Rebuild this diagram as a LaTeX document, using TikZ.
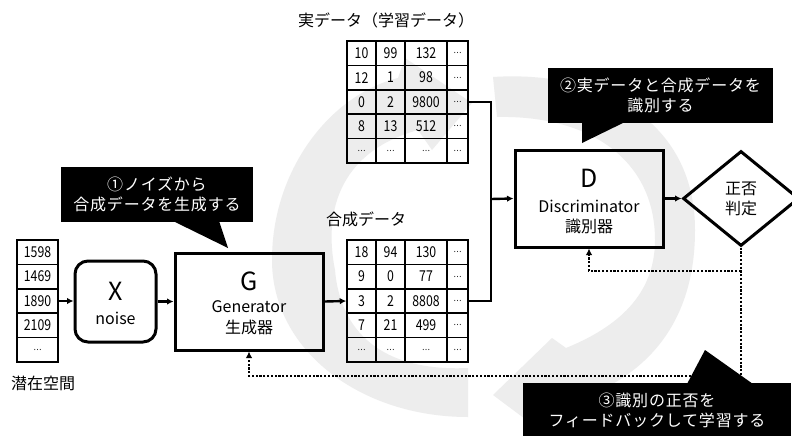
\documentclass[tikz,border=0pt]{standalone}
\usepackage{fontspec}
\setmainfont{Noto Sans CJK JP}
\newfontfamily\numfont[FakeStretch=0.82]{Noto Sans CJK JP}
\newfontfamily\jpcall[LetterSpace=5]{Noto Sans CJK JP}
\usetikzlibrary{arrows.meta,shapes.geometric}
\newcommand\ellip{{\fontsize{9}{9}\selectfont …}}
\begin{document}
\begin{tikzpicture}[x=1pt,y=-1pt,
  box/.style={draw, line width=3pt, inner sep=0pt},
  cell/.style={draw, line width=1.5pt, inner sep=0pt, minimum height=24.4pt,
    font=\numfont\fontsize{15}{15}\selectfont},
  conn/.style={line width=2.4pt, -{Latex[length=6.5pt,width=6.5pt]}},
  link/.style={line width=2.4pt},
  fb/.style={line width=2.8pt, dash pattern=on 2.2pt off 1.6pt, -{Latex[length=6.5pt,width=6.5pt]}},
  callout/.style={fill=black, text=white, inner sep=0pt, align=center,
    font=\jpcall\fontsize{16}{20}\selectfont},
  lbl/.style={inner sep=0pt, font=\fontsize{16}{16}\selectfont},
  big/.style={inner sep=0pt, font=\fontsize{25}{25}\selectfont},
  bgarrow/.style={fill=gray!14}]
\useasboundingbox (0,0) rectangle (792,436);
\clip (0,0) rectangle (792,436);
\fill[white] (0,0) rectangle (792,436);

% background cycle arrows
\fill[bgarrow] (468,368) .. controls (380,372) and (340,330) .. (335,270)
  .. controls (322,205) and (345,150) .. (418,130) -- (432,150) -- (472,103)
  -- (405,58) -- (398,78) .. controls (330,95) and (272,170) .. (272,260)
  .. controls (272,350) and (360,417) .. (468,417) -- cycle;
\fill[bgarrow] (493,77) .. controls (600,70) and (695,120) .. (695,230)
  .. controls (695,320) and (650,370) .. (590,395) -- (560,445) -- (493,395)
  -- (552,338) -- (566,348) .. controls (610,330) and (655,300) .. (655,240)
  .. controls (655,160) and (590,115) .. (497,117) -- cycle;

% labels
\node[lbl] (lreal) at (386,20) {実データ（学習データ）};
\node[lbl] (lsyn) at (366,219) {合成データ};
\node[lbl] (llat) at (43,383) {潜在空間};

% real data table
\foreach \rw [count=\i] in {{10,99,132,\ellip},{12,1,98,\ellip},{0,2,9800,\ellip},{8,13,512,\ellip},{\ellip,\ellip,\ellip,\ellip}}{
  \foreach \v [count=\j] in \rw {
    \pgfmathsetmacro\cx{{361.5,390.5,426,457.5}[\j-1]}
    \pgfmathsetmacro\cw{{29,29,42,21}[\j-1]}
    \node[cell, minimum width=\cw pt] (real-\i-\j) at (\cx, 28.8+24.4*\i) {\v};
  }
}
% synthetic data table
\foreach \rw [count=\i] in {{18,94,130,\ellip},{9,0,77,\ellip},{3,2,8808,\ellip},{7,21,499,\ellip},{\ellip,\ellip,\ellip,\ellip}}{
  \foreach \v [count=\j] in \rw {
    \pgfmathsetmacro\cx{{361.5,390.5,426,457.5}[\j-1]}
    \pgfmathsetmacro\cw{{29,29,42,21}[\j-1]}
    \node[cell, minimum width=\cw pt] (syn-\i-\j) at (\cx, 227.8+24.4*\i) {\v};
  }
}
% latent vector
\foreach \v [count=\i] in {1598,1469,1890,2109,\ellip}{
  \node[cell, minimum width=41pt] (lat-\i) at (37.5, 227.8+24.4*\i) {\v};
}

% main boxes
\node[box, rounded corners=13pt, minimum width=81pt, minimum height=81pt] (X) at (115.5,301.5) {};
\node[big] (Xt) at (115.5,291) {X};
\node[lbl] (Xn) at (115.5,318) {noise};

\node[box, minimum width=148pt, minimum height=97pt] (G) at (249,301.5) {};
\node[big] (Gt) at (249,281) {G};
\node[lbl] (Gn) at (249,307) {Generator};
\node[lbl] (Gj) at (249,327) {生成器};

\node[box, minimum width=148pt, minimum height=97pt] (D) at (589,198.5) {};
\node[big] (Dt) at (589,178) {D};
\node[lbl] (Dn) at (589,206) {Discriminator};
\node[lbl] (Dj) at (589,226) {識別器};

\node[draw, line width=3pt, diamond, inner sep=0pt, minimum width=116pt, minimum height=95pt,
  align=center, font=\fontsize{16}{20}\selectfont] (J) at (741,198.5) {正否\\判定};

% connectors
\coordinate (jn) at (491,199);
\draw[conn] (lat-3.east) -- (X.west |- lat-3.east);
\draw[conn] (X.east) -- (G.west);
\draw[conn] (G.east) -- (syn-3-1.west);
\draw[link] (real-3-4.east) -| (jn);
\draw[link] (syn-3-4.east) -| (jn);
\draw[conn] (jn) -- (D.west);
\draw[conn] (D.east) -- (J.west);

\coordinate (fbd) at (741,271);
\coordinate (fbc) at (741,376);
\draw[fb] (J.south) -- (fbc) -| (G.south);
\draw[fb] (fbd) -| (D.south);

% callouts
\node[callout, minimum width=192pt, minimum height=55pt] (c1) at (157,194.5) {①ノイズから\\合成データを生成する};
\fill[black] (173,221) -- (228,248) -- (219,221) -- cycle;
\node[callout, minimum width=225pt, minimum height=55pt] (c2) at (660.5,95.5) {②実データと合成データを\\識別する};
\fill[black] (582,122) -- (582,143) -- (625,122) -- cycle;
\node[callout, minimum width=268pt, minimum height=54pt] (c3) at (657,410) {③識別の正否を\\フィードバックして学習する};
\fill[black] (687,384) -- (705,350) -- (753,384) -- cycle;
\end{tikzpicture}
\end{document}
